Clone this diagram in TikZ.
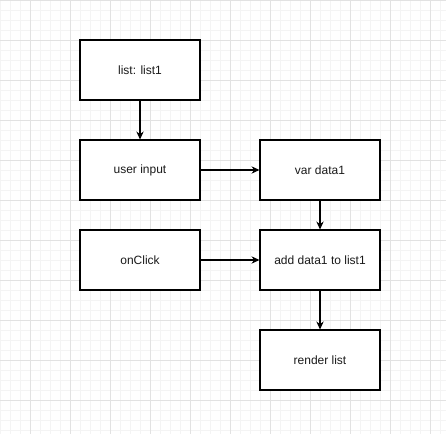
\documentclass[tikz,border=0pt]{standalone}
\usepackage{fontspec}
\setmainfont{Liberation Sans}
\usetikzlibrary{arrows.meta}
\definecolor{minorgrid}{HTML}{F4F4F4}
\definecolor{majorgrid}{HTML}{E2E2E2}
\definecolor{txt}{HTML}{1A1A1A}
\begin{document}
\begin{tikzpicture}[x=0.75pt,y=-0.75pt,
  box/.style={draw=black,line width=0.8pt,fill=white,minimum width=90pt,minimum height=45pt,inner sep=0pt,text=txt,font=\fontsize{9pt}{11pt}\selectfont},
  conn/.style={draw=black,line width=0.8pt,-{Stealth[length=6pt,width=5.5pt,inset=2pt]}}]
\useasboundingbox (0,0) rectangle (446,434);
\fill[white] (0,0) rectangle (446,434);
\foreach \i in {0,10,...,440} \draw[minorgrid,line width=0.6pt] (\i,0) -- (\i,434);
\foreach \j in {0,10,...,430} \draw[minorgrid,line width=0.6pt] (0,\j) -- (446,\j);
\foreach \i in {30,70,...,430} \draw[majorgrid,line width=0.6pt] (\i,0) -- (\i,434);
\foreach \j in {0,40,...,430} \draw[majorgrid,line width=0.6pt] (0,\j) -- (446,\j);
\node[box] (list) at (140,70) {list: list1};
\node[box] (user) at (140,170) {user input};
\node[box] (var) at (320,170) {var data1};
\node[box] (click) at (140,260) {onClick};
\node[box] (add) at (320,260) {add data1 to list1};
\node[box] (render) at (320,360) {render list};
\draw[conn] (list) -- (user);
\draw[conn] (user) -- (var);
\draw[conn] (var) -- (add);
\draw[conn] (click) -- (add);
\draw[conn] (add) -- (render);
\end{tikzpicture}
\end{document}
